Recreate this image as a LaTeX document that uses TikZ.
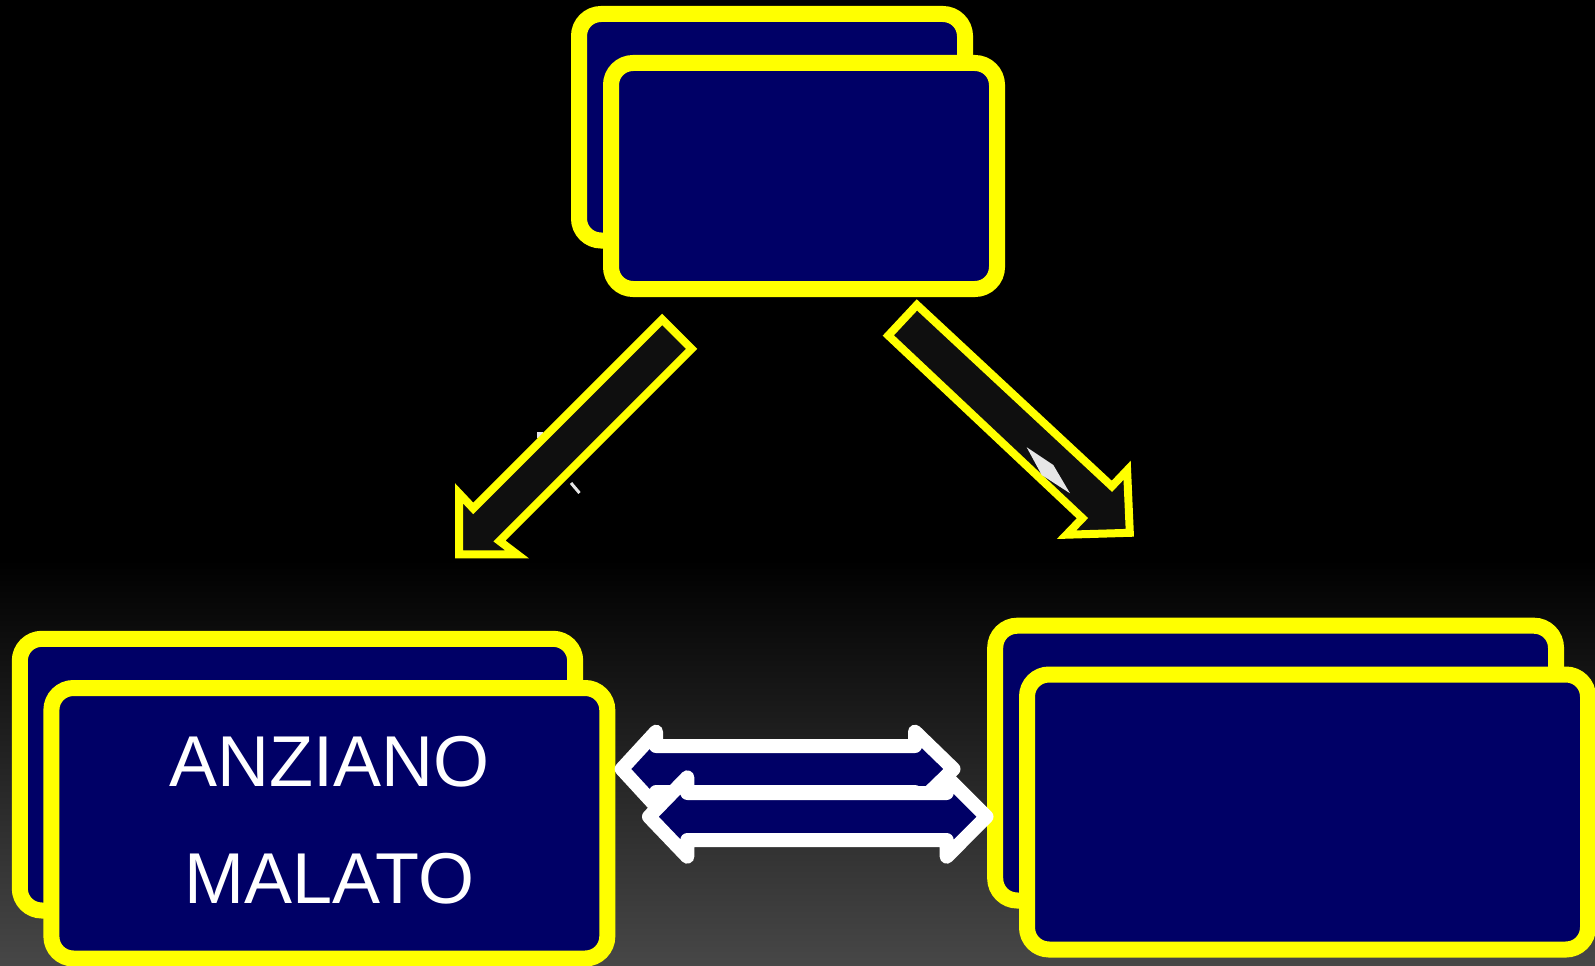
\documentclass[tikz,border=0pt]{standalone}
\usepackage{fontspec}
\setmainfont{Liberation Sans}
\definecolor{navy}{HTML}{000066}
\definecolor{yel}{HTML}{FFFF00}
\definecolor{arrowfill}{HTML}{0F0F0F}
\definecolor{bgbottom}{HTML}{474747}
\definecolor{speck}{HTML}{E6E6E6}
\begin{document}
\begin{tikzpicture}[x=1pt,y=-1pt,
  card/.style={rectangle, draw=yel, fill=navy, line width=16pt, rounded corners=22pt, inner sep=0pt},
  blockarrow/.style={draw=yel, fill=arrowfill, line width=8pt, line join=miter},
  dblarrow/.style={draw=white, fill=navy, line width=14pt, line join=round, line cap=round},
  cardtext/.style={text=white, font=\fontsize{72}{117}\selectfont, align=center, inner sep=0pt}]
% background
\fill[black] (0,0) rectangle (1595,966);
\shade[top color=black, bottom color=bgbottom] (0,560) rectangle (1595,966);
\useasboundingbox (0,0) rectangle (1595,966);
% top group
\node[card, minimum width=386pt, minimum height=226.5pt] (topback) at (772,127.25) {};
\node[card, minimum width=386pt, minimum height=226pt] (topfront) at (804,176) {};
% lower left group
\node[card, minimum width=555.4pt, minimum height=271.7pt] (llback) at (297.5,774.65) {};
\node[card, minimum width=555.9pt, minimum height=270.5pt] (llfront) at (329.35,823.25) {};
\node[cardtext] (lltext) at (329.4,820) {ANZIANO\\MALATO};
% lower right group
\node[card, minimum width=560.8pt, minimum height=274.8pt] (lrback) at (1275.6,763.1) {};
\node[card, minimum width=561pt, minimum height=275pt] (lrfront) at (1307.5,812) {};
% small specks beside the left arrow
\fill[speck] (536.7,431.7) rectangle (543,437.5);
\draw[speck, line width=3pt] (571,483) -- (579.5,493);
% left block arrow
\draw[blockarrow] (662.2,319.4) -- (691.6,348.9) -- (499.5,541) -- (517,554.3)
  -- (459,554.3) -- (459,493.3) -- (473.2,508.4) -- cycle;
% right block arrow
\draw[blockarrow] (916.9,304.9) -- (888.3,335.5) -- (1082.4,518.2) -- (1066.5,534.7)
  -- (1129.8,532.8) -- (1127.1,470.3) -- (1111.9,486.3) -- cycle;
\fill[speck] (1026.7,447.3) -- (1053.3,465) -- (1070,493.3) -- (1041.7,475) -- cycle;
% double arrows between the lower groups
\draw[dblarrow] (656,731.7) -- (656,746) -- (915,746) -- (915,731.7) -- (953.5,769)
  -- (915,806.3) -- (915,792) -- (656,792) -- (656,806.3) -- (621.7,769) -- cycle;
\draw[dblarrow] (687.3,777.3) -- (687.3,793) -- (946.7,793) -- (946.7,777) -- (986.5,816.7)
  -- (946.7,856.7) -- (946.7,840) -- (687.3,840) -- (687.3,856.7) -- (649,816.7) -- cycle;
\end{tikzpicture}
\end{document}
